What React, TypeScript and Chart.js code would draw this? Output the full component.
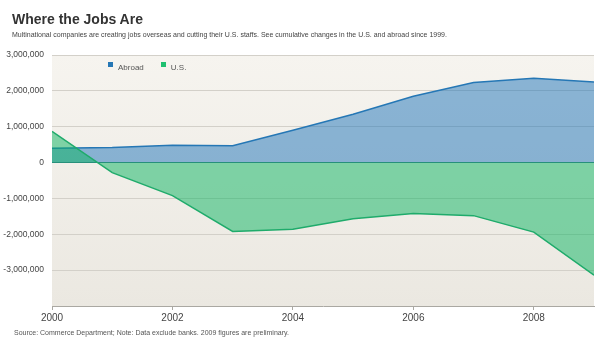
import React, { useEffect, useRef } from "react";
import { Chart, registerables } from "chart.js";

Chart.register(...registerables);

const years = [2000, 2001, 2002, 2003, 2004, 2005, 2006, 2007, 2008, 2009];
const abroad = [400000, 420000, 480000, 470000, 900000, 1350000, 1850000, 2230000, 2350000, 2250000];
const us = [870000, -280000, -920000, -1920000, -1860000, -1570000, -1420000, -1480000, -1940000, -3140000];
const xTicks = [2000, 2002, 2004, 2006, 2008];
const yTicks = [3000000, 2000000, 1000000, 0, -1000000, -2000000, -3000000];

const FONT = "'Liberation Sans', Arial, Helvetica, sans-serif";

const bgPlugin = {
  id: "bgGrad",
  beforeDraw(chart: any) {
    const { ctx, chartArea } = chart;
    if (!chartArea) return;
    const g = ctx.createLinearGradient(0, chartArea.top, 0, chartArea.bottom);
    g.addColorStop(0, "#f6f4ef");
    g.addColorStop(1, "#ebe8e1");
    ctx.save();
    ctx.fillStyle = g;
    ctx.fillRect(chartArea.left, chartArea.top, chartArea.right - chartArea.left, chartArea.bottom - chartArea.top);
    ctx.restore();
  },
};

export default function App() {
  const ref = useRef<HTMLCanvasElement>(null);
  useEffect(() => {
    if (!ref.current) return;
    const chart = new Chart(ref.current, {
      type: "line",
      data: {
        datasets: [
          {
            label: "Abroad",
            data: years.map((y, i) => ({ x: y, y: abroad[i] })),
            borderColor: "#2577b5",
            backgroundColor: "rgba(30,115,185,0.5)",
            borderWidth: 1.5,
            fill: "origin",
            pointRadius: 0,
            tension: 0,
            order: 1,
          },
          {
            label: "U.S.",
            data: years.map((y, i) => ({ x: y, y: us[i] })),
            borderColor: "#1fab6b",
            backgroundColor: "rgba(10,180,95,0.5)",
            borderWidth: 1.5,
            fill: "origin",
            pointRadius: 0,
            tension: 0,
            order: 0,
          },
        ],
      },
      options: {
        animation: false,
        responsive: false,
        layout: { padding: { left: 0, right: 20, top: 55, bottom: 19 } },
        plugins: { legend: { display: false }, tooltip: { enabled: false } },
        scales: {
          x: {
            type: "linear",
            min: 2000,
            max: 2009,
            afterBuildTicks: (s: any) => {
              s.ticks = xTicks.map((v) => ({ value: v }));
            },
            afterFit: (s: any) => {
              s.height = 22;
            },
            grid: { drawOnChartArea: false, drawTicks: true, tickLength: 4, color: "#aaa8a2" },
            border: { color: "#aaa8a2", width: 1 },
            ticks: {
              color: "#444",
              font: { family: FONT, size: 10 },
              padding: 2,
              maxRotation: 0,
              callback: (v: any) => String(v),
            },
          },
          y: {
            min: -4000000,
            max: 3000000,
            afterBuildTicks: (s: any) => {
              s.ticks = yTicks.map((v) => ({ value: v }));
            },
            afterFit: (s: any) => {
              s.width = 52;
            },
            grid: {
              drawTicks: false,
              color: (c: any) => (c.tick && c.tick.value === 0 ? "#3a8a74" : "#d3d0c9"),
              lineWidth: 1,
            },
            border: { display: false },
            ticks: {
              color: "#444",
              font: { family: FONT, size: 8.5 },
              padding: 8,
              callback: (v: any) => Number(v).toLocaleString("en-US"),
            },
          },
        },
      },
      plugins: [bgPlugin],
    } as any);
    return () => chart.destroy();
  }, []);

  const box = (color: string): React.CSSProperties => ({
    display: "inline-block",
    width: 5,
    height: 5,
    background: color,
    marginRight: 5,
    verticalAlign: "middle",
    position: "relative",
    top: -3,
  });

  return (
    <div style={{ position: "fixed", left: 0, top: 0, width: 614, height: 347, background: "#fff", fontFamily: FONT }}>
      <canvas ref={ref} width={614} height={347} style={{ position: "absolute", left: 0, top: 0 }} />
      <div style={{ position: "absolute", left: 12, top: 11, fontSize: 14, fontWeight: "bold", color: "#333", whiteSpace: "nowrap" }}>
        Where the Jobs Are
      </div>
      <div style={{ position: "absolute", left: 12, top: 31, fontSize: 7, color: "#444", whiteSpace: "nowrap" }}>
        Multinational companies are creating jobs overseas and cutting their U.S. staffs. See cumulative changes in the U.S. and abroad since 1999.
      </div>
      <div style={{ position: "absolute", left: 108, top: 63, fontSize: 8, color: "#555", whiteSpace: "nowrap" }}>
        <span style={box("#2577b5")} />
        <span>Abroad</span>
        <span style={{ display: "inline-block", width: 17 }} />
        <span style={box("#1fc070")} />
        <span>U.S.</span>
      </div>
      <div style={{ position: "absolute", left: 14, top: 329, fontSize: 7, color: "#555", whiteSpace: "nowrap" }}>
        Source: Commerce Department; Note: Data exclude banks. 2009 figures are preliminary.
      </div>
    </div>
  );
}
